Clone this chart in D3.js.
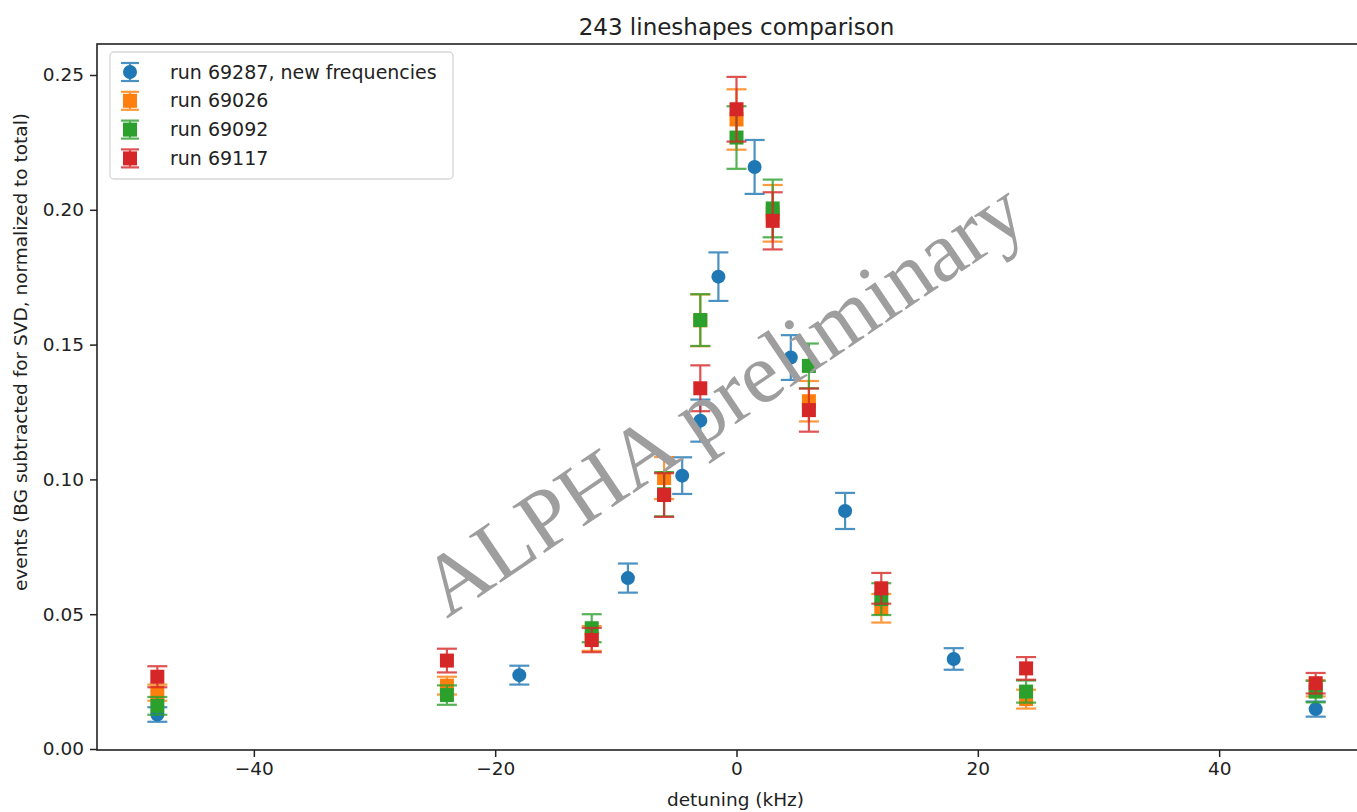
<!DOCTYPE html>
<html>
<head>
<meta charset="utf-8">
<script src="https://cdn.jsdelivr.net/npm/d3@7/dist/d3.min.js"></script>
<style>
  html, body { margin: 0; padding: 0; background: #fff; }
  svg { display: block; font-family: "DejaVu Sans", sans-serif; }
</style>
</head>
<body>
<svg id="chart" width="1357" height="812"></svg>
<script>
// Detuning points (kHz)
const xNew  = [-48, -18, -9, -4.5, -3, -1.5, 1.5, 4.5, 9, 18, 48];
const xRuns = [-48, -24, -12, -6, -3, 0, 3, 6, 12, 24, 48];

// run 69287, new frequencies
const run69287    = [0.0128, 0.0274, 0.0634, 0.1014, 0.1218, 0.1752, 0.2159, 0.1452, 0.0883, 0.0334, 0.0148];
const run69287Err = [0.0027, 0.0035, 0.0054, 0.0068, 0.0078, 0.0090, 0.0100, 0.0083, 0.0067, 0.0040, 0.0028];
// run 69026
const run69026    = [0.0209, 0.0235, 0.0410, 0.1005, 0.1590, 0.2335, 0.1987, 0.1290, 0.0522, 0.0185, 0.0225];
const run69026Err = [0.0030, 0.0033, 0.0046, 0.0078, 0.0096, 0.0112, 0.0105, 0.0075, 0.0053, 0.0035, 0.0030];
// run 69092
const run69092    = [0.0160, 0.0200, 0.0448, 0.0945, 0.1591, 0.2268, 0.2005, 0.1421, 0.0556, 0.0213, 0.0213];
const run69092Err = [0.0033, 0.0036, 0.0052, 0.0082, 0.0096, 0.0116, 0.0107, 0.0083, 0.0059, 0.0041, 0.0040];
// run 69117
const run69117    = [0.0268, 0.0328, 0.0404, 0.0942, 0.1338, 0.2373, 0.1959, 0.1257, 0.0596, 0.0299, 0.0244];
const run69117Err = [0.0039, 0.0044, 0.0045, 0.0081, 0.0085, 0.0120, 0.0106, 0.0080, 0.0057, 0.0042, 0.0038];

const seriesNames = ["run 69287, new frequencies", "run 69026", "run 69092", "run 69117"];
const xTicks = [-40, -20, 0, 20, 40];
const yTicks = [0.00, 0.05, 0.10, 0.15, 0.20, 0.25];

const colors = ["#1f77b4", "#ff7f0e", "#2ca02c", "#d62728"];
const shapes = ["circle", "square", "square", "square"];

const series = [
  {name: seriesNames[0], xs: xNew,  ys: run69287, es: run69287Err},
  {name: seriesNames[1], xs: xRuns, ys: run69026, es: run69026Err},
  {name: seriesNames[2], xs: xRuns, ys: run69092, es: run69092Err},
  {name: seriesNames[3], xs: xRuns, ys: run69117, es: run69117Err},
].map((s, i) => ({...s, color: colors[i], shape: shapes[i],
  pts: s.xs.map((x, j) => ({x, y: s.ys[j], e: s.es[j]}))}));

const svg = d3.select("#chart");
const plotL = 97, plotR = 1376, plotT = 44, plotB = 750;

const x = d3.scaleLinear().domain([-53, 53]).range([plotL, plotR]);
const y = d3.scaleLinear().domain([-0.00037, 0.2615]).range([plotB, plotT]);

const fmtX = d => (d < 0 ? "\u2212" + Math.abs(d) : String(d));

// Title
svg.append("text")
  .attr("x", (plotL + plotR) / 2).attr("y", 35)
  .attr("text-anchor", "middle")
  .attr("font-size", 23).attr("fill", "#222")
  .text("243 lineshapes comparison");

// Axes
const xAxis = d3.axisBottom(x).tickValues(xTicks).tickFormat(fmtX).tickSize(7).tickPadding(5);
const yAxis = d3.axisLeft(y).tickValues(yTicks).tickFormat(d3.format(".2f")).tickSize(7).tickPadding(6);

const gx = svg.append("g").attr("transform", `translate(0,${plotB})`).call(xAxis);
const gy = svg.append("g").attr("transform", `translate(${plotL},0)`).call(yAxis);
[gx, gy].forEach(g => {
  g.select(".domain").remove();
  g.selectAll(".tick line").attr("stroke", "#222").attr("stroke-width", 1.5);
  g.selectAll(".tick text").attr("font-size", 18.5).attr("fill", "#222")
    .attr("font-family", "DejaVu Sans, sans-serif");
});

// Frame
svg.append("rect")
  .attr("x", plotL).attr("y", plotT)
  .attr("width", plotR - plotL).attr("height", plotB - plotT)
  .attr("fill", "none").attr("stroke", "#222").attr("stroke-width", 1.6);

// Axis labels
svg.append("text")
  .attr("x", (plotL + plotR) / 2 - 1).attr("y", 806)
  .attr("text-anchor", "middle").attr("font-size", 18.5).attr("fill", "#222")
  .text("detuning (kHz)");
svg.append("text")
  .attr("transform", "translate(27,352) rotate(-90)")
  .attr("text-anchor", "middle").attr("font-size", 18.5).attr("fill", "#222")
  .text("events (BG subtracted for SVD, normalized to total)");

// Error bars and markers
const capHalf = 10, markR = 7, sq = 14;
const plot = svg.append("g");

function drawMarker(g, shape, color, cx, cy) {
  if (shape === "circle") {
    g.append("circle").attr("cx", cx).attr("cy", cy).attr("r", markR).attr("fill", color);
  } else {
    g.append("rect").attr("x", cx - sq / 2).attr("y", cy - sq / 2)
      .attr("width", sq).attr("height", sq).attr("fill", color);
  }
}

series.forEach(s => {
  const g = plot.append("g");
  const eb = g.append("g").attr("stroke", s.color).attr("stroke-width", 2.2).attr("opacity", 0.8);
  s.pts.forEach(p => {
    const cx = x(p.x), y0 = y(p.y - p.e), y1 = y(p.y + p.e);
    eb.append("line").attr("x1", cx).attr("x2", cx).attr("y1", y0).attr("y2", y1);
    eb.append("line").attr("x1", cx - capHalf).attr("x2", cx + capHalf).attr("y1", y0).attr("y2", y0);
    eb.append("line").attr("x1", cx - capHalf).attr("x2", cx + capHalf).attr("y1", y1).attr("y2", y1);
  });
  s.pts.forEach(p => drawMarker(g, s.shape, s.color, x(p.x), y(p.y)));
});

// Legend
const lg = svg.append("g");
lg.append("rect")
  .attr("x", 110).attr("y", 52).attr("width", 343).attr("height", 127)
  .attr("rx", 4).attr("fill", "#fff").attr("fill-opacity", 0.8)
  .attr("stroke", "#d6d6d6").attr("stroke-width", 1.3);
series.forEach((s, i) => {
  const cy = 72 + i * 28.8, cx = 130;
  const e = lg.append("g").attr("stroke", s.color).attr("stroke-width", 2.2).attr("opacity", 0.8);
  e.append("line").attr("x1", cx).attr("x2", cx).attr("y1", cy - 9).attr("y2", cy + 9);
  e.append("line").attr("x1", cx - 9).attr("x2", cx + 9).attr("y1", cy - 9).attr("y2", cy - 9);
  e.append("line").attr("x1", cx - 9).attr("x2", cx + 9).attr("y1", cy + 9).attr("y2", cy + 9);
  drawMarker(lg, s.shape, s.color, cx, cy);
  lg.append("text").attr("x", 170).attr("y", cy).attr("dy", "0.35em")
    .attr("font-size", 19).attr("fill", "#222").text(s.name);
});

// Watermark
svg.append("text")
  .attr("transform", "translate(722,397) rotate(-34)")
  .attr("text-anchor", "middle").attr("dy", "0.35em")
  .attr("font-family", "Liberation Serif, Times New Roman, serif")
  .attr("font-size", 86).attr("fill", "#9e9e9e")
  .text("ALPHA preliminary");
</script>
</body>
</html>
